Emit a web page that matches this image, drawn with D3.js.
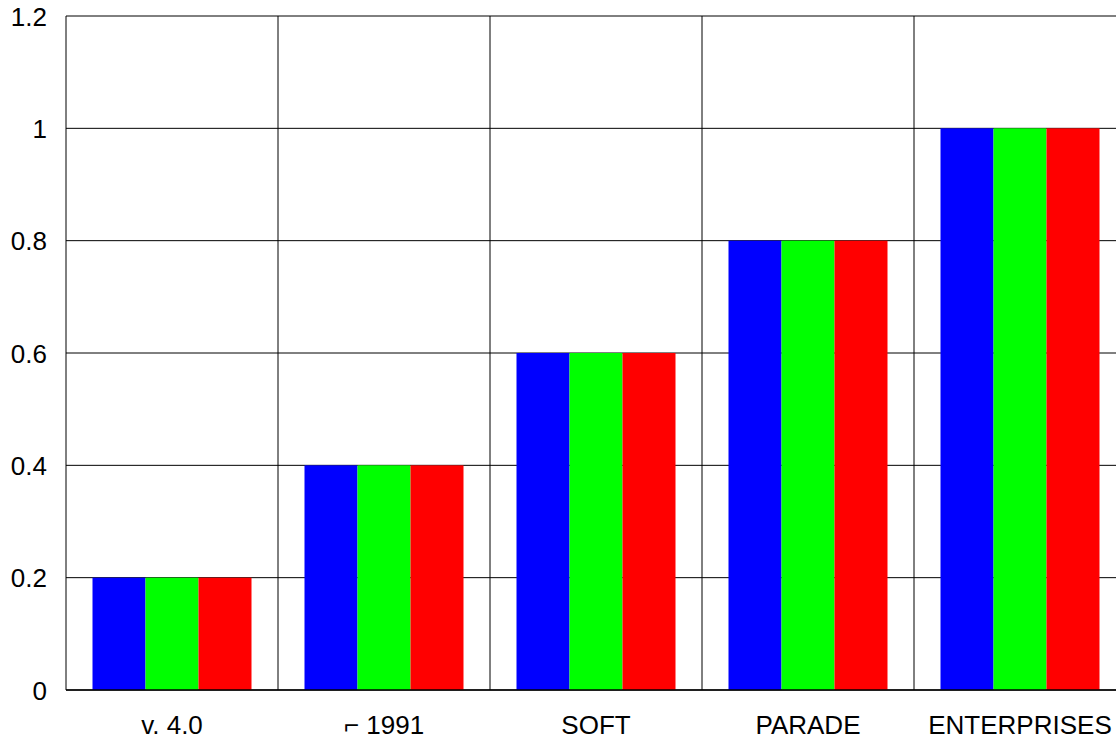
<!DOCTYPE html>
<html>
<head>
<meta charset="utf-8">
<script src="https://cdn.jsdelivr.net/npm/d3@7"></script>
<style>
  body { margin: 0; background: #fff; }
  text { font-family: "Liberation Sans", Arial, sans-serif; fill: #000; }
</style>
</head>
<body>
<div id="chart"></div>
<script>
var categories = ["v. 4.0", "\u2310 1991", "SOFT", "PARADE", "ENTERPRISES"];
var seriesNames = ["a", "b", "c"];
var seriesA = [0.2, 0.4, 0.6, 0.8, 1.0];
var seriesB = [0.2, 0.4, 0.6, 0.8, 1.0];
var seriesC = [0.2, 0.4, 0.6, 0.8, 1.0];
var yTicks = [0, 0.2, 0.4, 0.6, 0.8, 1, 1.2];
var colors = ["#0000ff", "#00ff00", "#ff0000"];

var allSeries = [seriesA, seriesB, seriesC];
var data = categories.map(function(c, i){
  return {cat: c, vals: allSeries.map(function(s, j){ return {name: seriesNames[j], v: s[i]}; })};
});

var margin = {left: 66, top: 16, right: -10, bottom: 52};
var W = 1116, H = 742;
var width = W - margin.left - margin.right,
    height = H - margin.top - margin.bottom;

var svg = d3.select("#chart").append("svg")
  .attr("width", W).attr("height", H);

var g = svg.append("g")
  .attr("transform", "translate(" + margin.left + "," + margin.top + ")");

var x0 = d3.scaleBand().domain(categories).range([0, width]).padding(0);
var x1 = d3.scaleBand().domain(seriesNames).range([0, x0.bandwidth()])
  .paddingInner(0).paddingOuter(0.5);
var y = d3.scaleLinear().domain([0, 1.2]).range([height, 0]);
var color = d3.scaleOrdinal().domain(seriesNames).range(colors);

// horizontal grid
g.selectAll(".hgrid").data(yTicks).enter().append("line")
  .attr("class", "hgrid")
  .attr("x1", 0).attr("x2", width)
  .attr("y1", function(d){ return y(d); })
  .attr("y2", function(d){ return y(d); })
  .attr("stroke", "#000").attr("stroke-width", 1);

// vertical grid at category boundaries
g.selectAll(".vgrid").data(categories).enter().append("line")
  .attr("class", "vgrid")
  .attr("x1", function(d){ return x0(d); })
  .attr("x2", function(d){ return x0(d); })
  .attr("y1", 0).attr("y2", height)
  .attr("stroke", "#000").attr("stroke-width", 1);

// bars
var groups = g.selectAll(".grp").data(data).enter().append("g")
  .attr("class", "grp")
  .attr("transform", function(d){ return "translate(" + x0(d.cat) + ",0)"; });

groups.selectAll("rect").data(function(d){ return d.vals; }).enter().append("rect")
  .attr("x", function(d){ return x1(d.name); })
  .attr("width", x1.bandwidth())
  .attr("y", function(d){ return y(d.v); })
  .attr("height", function(d){ return height - y(d.v); })
  .attr("fill", function(d){ return color(d.name); });

// bottom axis line
g.append("line")
  .attr("x1", 0).attr("x2", width)
  .attr("y1", height).attr("y2", height)
  .attr("stroke", "#000").attr("stroke-width", 1.5);

// y tick labels
g.selectAll(".ylab").data(yTicks).enter().append("text")
  .attr("class", "ylab")
  .attr("x", -19)
  .attr("y", function(d){ return y(d); })
  .attr("dy", "0.37em")
  .attr("text-anchor", "end")
  .style("font-size", "26px")
  .text(function(d){ return d3.format("")(d); });

// x labels
g.selectAll(".xlab").data(categories).enter().append("text")
  .attr("class", "xlab")
  .attr("x", function(d){ return x0(d) + x0.bandwidth() / 2; })
  .attr("y", height + 44)
  .attr("text-anchor", "middle")
  .style("font-size", "26px")
  .text(function(d){ return d; });
</script>
</body>
</html>
